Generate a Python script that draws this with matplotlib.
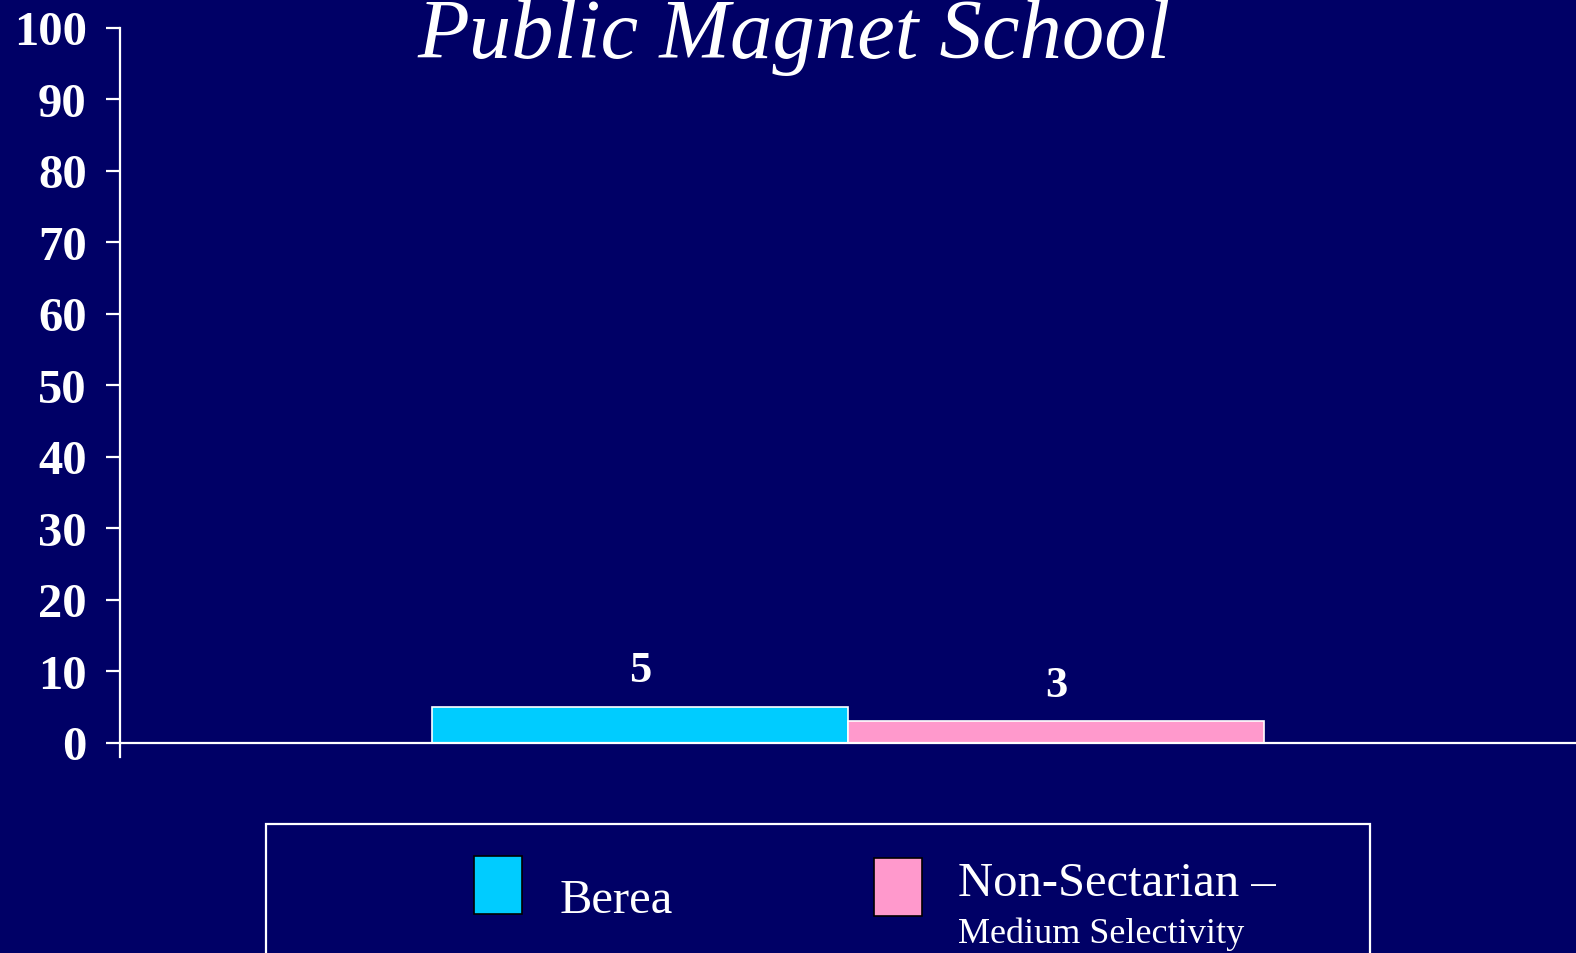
import matplotlib
matplotlib.use("Agg")
import matplotlib.pyplot as plt
from matplotlib.patches import Rectangle

title = "Public Magnet School"
series = ["Berea", "Non-Sectarian –"]
series_sub = ["", "Medium Selectivity"]
values = [5, 3]
colors = ["#00CCFF", "#FF99CC"]
yticks = [0, 10, 20, 30, 40, 50, 60, 70, 80, 90, 100]

BG = "#000066"
W, H = 1576, 953
fig = plt.figure(figsize=(W / 100 + 0.004, H / 100 + 0.004), dpi=100, facecolor=BG)
serif = ["Liberation Serif", "DejaVu Serif"]

ax = fig.add_axes([120 / W, (H - 757) / H, 1 - 120 / W, (757 - 28) / H])
ax.set_facecolor(BG)
ax.set_ylim(-2, 100)
ax.set_xlim(-0.5, 0.5)

bw = 416 / 1456
offsets = [-bw / 2, bw / 2]
for v, c, xo in zip(values, colors, offsets):
    ax.bar(xo, v, width=bw, color=c, edgecolor="white", linewidth=1.2, zorder=3)
    ax.annotate(str(v), (xo, v), xytext=(0, 18), textcoords="offset points",
                ha="center", va="baseline", color="white", fontsize=32,
                fontweight="bold", family=serif)

ax.axhline(0, color="white", lw=1.6, zorder=4)
for s in ["top", "right", "bottom"]:
    ax.spines[s].set_visible(False)
ax.spines["left"].set_color("white")
ax.spines["left"].set_linewidth(1.6)
ax.set_xticks([])
ax.set_yticks(yticks)
ax.tick_params(axis="y", direction="out", length=10, width=1.6, color="white",
               pad=14, labelcolor="white")
for lab in ax.get_yticklabels():
    lab.set_fontsize(35)
    lab.set_fontweight("bold")
    lab.set_family(serif)

fig.text(794 / W, (H - 58) / H, title, ha="center", va="baseline", color="white",
         fontsize=61, style="italic", family=serif)

# legend box
fig.patches.append(Rectangle((266, -10), 1370 - 266, 953 - 824 + 10, transform=None,
                             facecolor="none", edgecolor="white", lw=1.6))
# legend entries
fig.patches.append(Rectangle((474, H - 914), 48, 58, transform=None,
                             facecolor=colors[0], edgecolor="black", lw=1.2))
fig.patches.append(Rectangle((874, H - 916), 48, 58, transform=None,
                             facecolor=colors[1], edgecolor="black", lw=1.2))
fig.text(559 / W, (H - 913) / H, series[0], ha="left", va="baseline", color="white",
         fontsize=35, family=serif)
fig.text(958 / W, (H - 896) / H, series[1], ha="left", va="baseline", color="white",
         fontsize=35, family=serif)
fig.text(958 / W, (H - 943) / H, series_sub[1], ha="left", va="baseline", color="white",
         fontsize=26, family=serif)

fig.savefig("out.png", dpi=100, facecolor=BG)
